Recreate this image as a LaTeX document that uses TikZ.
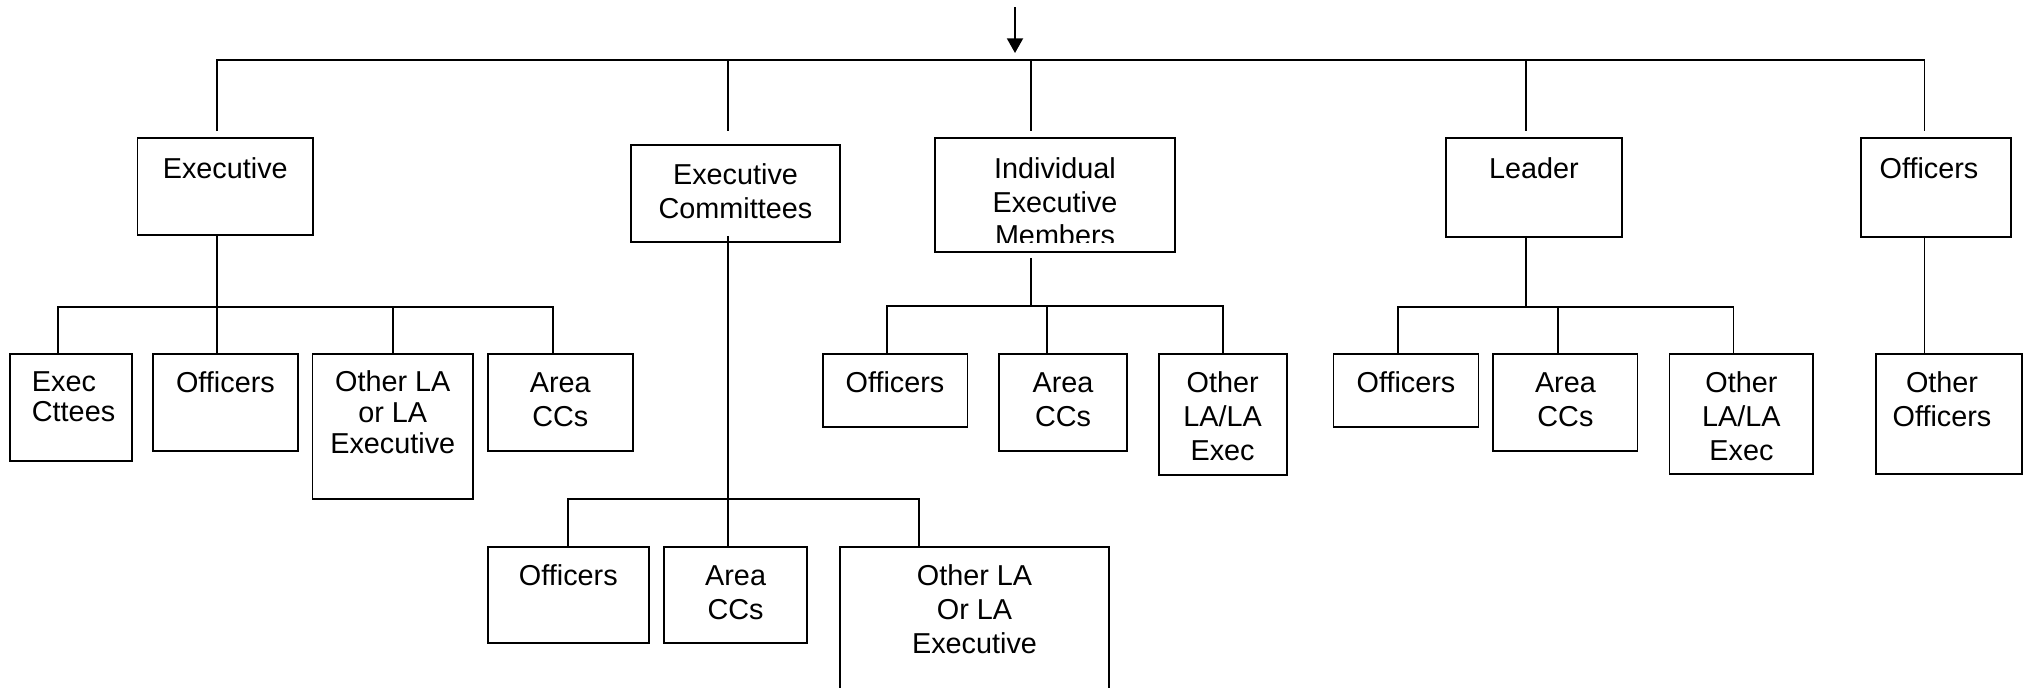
\documentclass[tikz,border=0pt]{standalone}
\usepackage{fontspec}
\setmainfont{Liberation Sans}
\usetikzlibrary{fit,arrows.meta}
\newcommand\fl{\rule{0pt}{16pt}}
\begin{document}
\begin{tikzpicture}[x=0.75pt,y=-0.75pt, line width=1.4pt,
  bx/.style={draw, rectangle, inner sep=0pt, line width=1.4pt},
  tx/.style={font=\fontsize{21.6}{25.3}\selectfont, align=center, inner sep=0pt, anchor=north},
  tight/.style={font=\fontsize{21.6}{22.5}\selectfont},
  mid/.style={font=\fontsize{21.6}{23.3}\selectfont}]
\clip (0,0) rectangle (2027,687);
% ---------- boxes ----------
\node[bx, fit={(137.5,138) (313,235)}] (exec) {};
\node[bx, fit={(631,145) (840,242)}] (ecom) {};
\node[bx, fit={(935,138) (1175,252)}] (iem) {};
\node[bx, fit={(1446,138) (1622,237)}] (lead) {};
\node[bx, fit={(1861,138) (2011,237)}] (offt) {};
\node[bx, fit={(9.8,354) (131.7,460.7)}] (c1) {};
\node[bx, fit={(153,354) (297.8,451)}] (c2) {};
\node[bx, fit={(312.5,354) (473,499)}] (c3) {};
\node[bx, fit={(488,354) (632.6,451)}] (c4) {};
\node[bx, fit={(823,354) (967.5,426.7)}] (i1) {};
\node[bx, fit={(998.75,354) (1127,450.7)}] (i2) {};
\node[bx, fit={(1158.6,354) (1286.7,475)}] (i3) {};
\node[bx, fit={(1333.5,354) (1478.5,426.7)}] (l1) {};
\node[bx, fit={(1493.3,354) (1637.5,450.7)}] (l2) {};
\node[bx, fit={(1669.5,354) (1813.2,474.3)}] (l3) {};
\node[bx, fit={(1876.3,354) (2021.8,474.3)}] (o1) {};
\node[bx, fit={(488,546.7) (648.7,642.7)}] (e1) {};
\node[bx, fit={(664.3,546.7) (807,642.7)}] (e2) {};
\node[bx, fit={(839.7,546.7) (1109.4,720)}] (e3) {};
% ---------- texts ----------
\node[tx] (exec-t) at (225.25,156.2) {\fl Executive};
\node[tx] (ecom-t) at (735.5,162.2) {\fl Executive\\Committees};
\begin{scope}
\clip (935,138) rectangle (1175,242);
\node[tx] (iem-t) at (1055,156.2) {\fl Individual\\Executive\\Members};
\end{scope}
\node[tx] (lead-t) at (1534,156.2) {\fl Leader};
\node[tx] (offt-t) at (1929,156.2) {\fl Officers};
\node[tx, tight, anchor=north west, align=left] (c1-t) at (31,369.7) {\fl Exec\\Cttees};
\node[tx] (c2-t) at (225.4,370.7) {\fl Officers};
\node[tx, mid] (c3-t) at (392.75,369.2) {\fl Other LA\\or LA\\Executive};
\node[tx] (c4-t) at (560.3,370.7) {\fl Area\\CCs};
\node[tx] (i1-t) at (895,370.7) {\fl Officers};
\node[tx] (i2-t) at (1063,370.7) {\fl Area\\CCs};
\node[tx] (i3-t) at (1222.6,370.7) {\fl Other\\LA/LA\\Exec};
\node[tx] (l1-t) at (1406,370.7) {\fl Officers};
\node[tx] (l2-t) at (1565.4,370.7) {\fl Area\\CCs};
\node[tx] (l3-t) at (1741.4,370.7) {\fl Other\\LA/LA\\Exec};
\node[tx] (o1-t) at (1942,370.7) {\fl Other\\Officers};
\node[tx] (e1-t) at (568.3,563.7) {\fl Officers};
\node[tx] (e2-t) at (735.6,563.7) {\fl Area\\CCs};
\node[tx] (e3-t) at (974.5,563.7) {\fl Other LA\\Or LA\\Executive};
% ---------- connectors ----------
\coordinate (src) at (1015,7);
\coordinate (srcend) at (1015,53);
\draw[-{Triangle[length=11pt,width=12pt]}] (src) -- (srcend);
\coordinate (barL) at (217,60);
\coordinate (barR) at (1924.5,60);
\coordinate (jecom) at (728,60);
\coordinate (jiem) at (1031,60);
\coordinate (jlead) at (1526,60);
\draw ([yshift=4.5pt]barL |- exec.north) -- (barL) -- (barR) -- ([yshift=4.5pt]barR |- offt.north);
\draw (jecom) -- ([yshift=9.75pt]jecom |- ecom.north);
\draw (jiem) -- ([yshift=4.5pt]jiem |- iem.north);
\draw (jlead) -- ([yshift=4.5pt]jlead |- lead.north);
% executive children
\coordinate (eb1) at (57.6,306.7);
\coordinate (eb3) at (393,306.7);
\coordinate (eb4) at (552.7,306.7);
\draw (exec.south -| barL) -- (c2.north -| barL);
\draw (eb1 |- c1.north) -- (eb1) -- (eb4) -- (eb4 |- c4.north);
\draw (eb3) -- (eb3 |- c3.north);
% executive committees children
\coordinate (cb1) at (568.3,499);
\coordinate (cb3) at (918.75,499);
\draw ([yshift=5.25pt]ecom.south -| jecom) -- (e2.north -| jecom);
\draw (cb1 |- e1.north) -- (cb1) -- (cb3) -- (cb3 |- e3.north);
% individual executive members children
\coordinate (ib1) at (887,306);
\coordinate (ib2) at (1047,306);
\coordinate (ib3) at (1223,306);
\draw ([yshift=-3.75pt]iem.south -| jiem) -- (jiem |- ib1);
\draw (ib1 |- i1.north) -- (ib1) -- (ib3) -- (ib3 |- i3.north);
\draw (ib2) -- (ib2 |- i2.north);
% leader children
\coordinate (lb1) at (1397.8,306.7);
\coordinate (lb2) at (1557.8,306.7);
\coordinate (lb3) at (1733.5,306.7);
\draw ([yshift=1.5pt]lead.south -| jlead) -- (jlead |- lb1);
\draw (lb1 |- l1.north) -- (lb1) -- (lb3) -- (lb3 |- l3.north);
\draw (lb2) -- (lb2 |- l2.north);
% officers child
\draw ([yshift=1.5pt]offt.south -| barR) -- (barR |- o1.north);
\end{tikzpicture}
\end{document}
